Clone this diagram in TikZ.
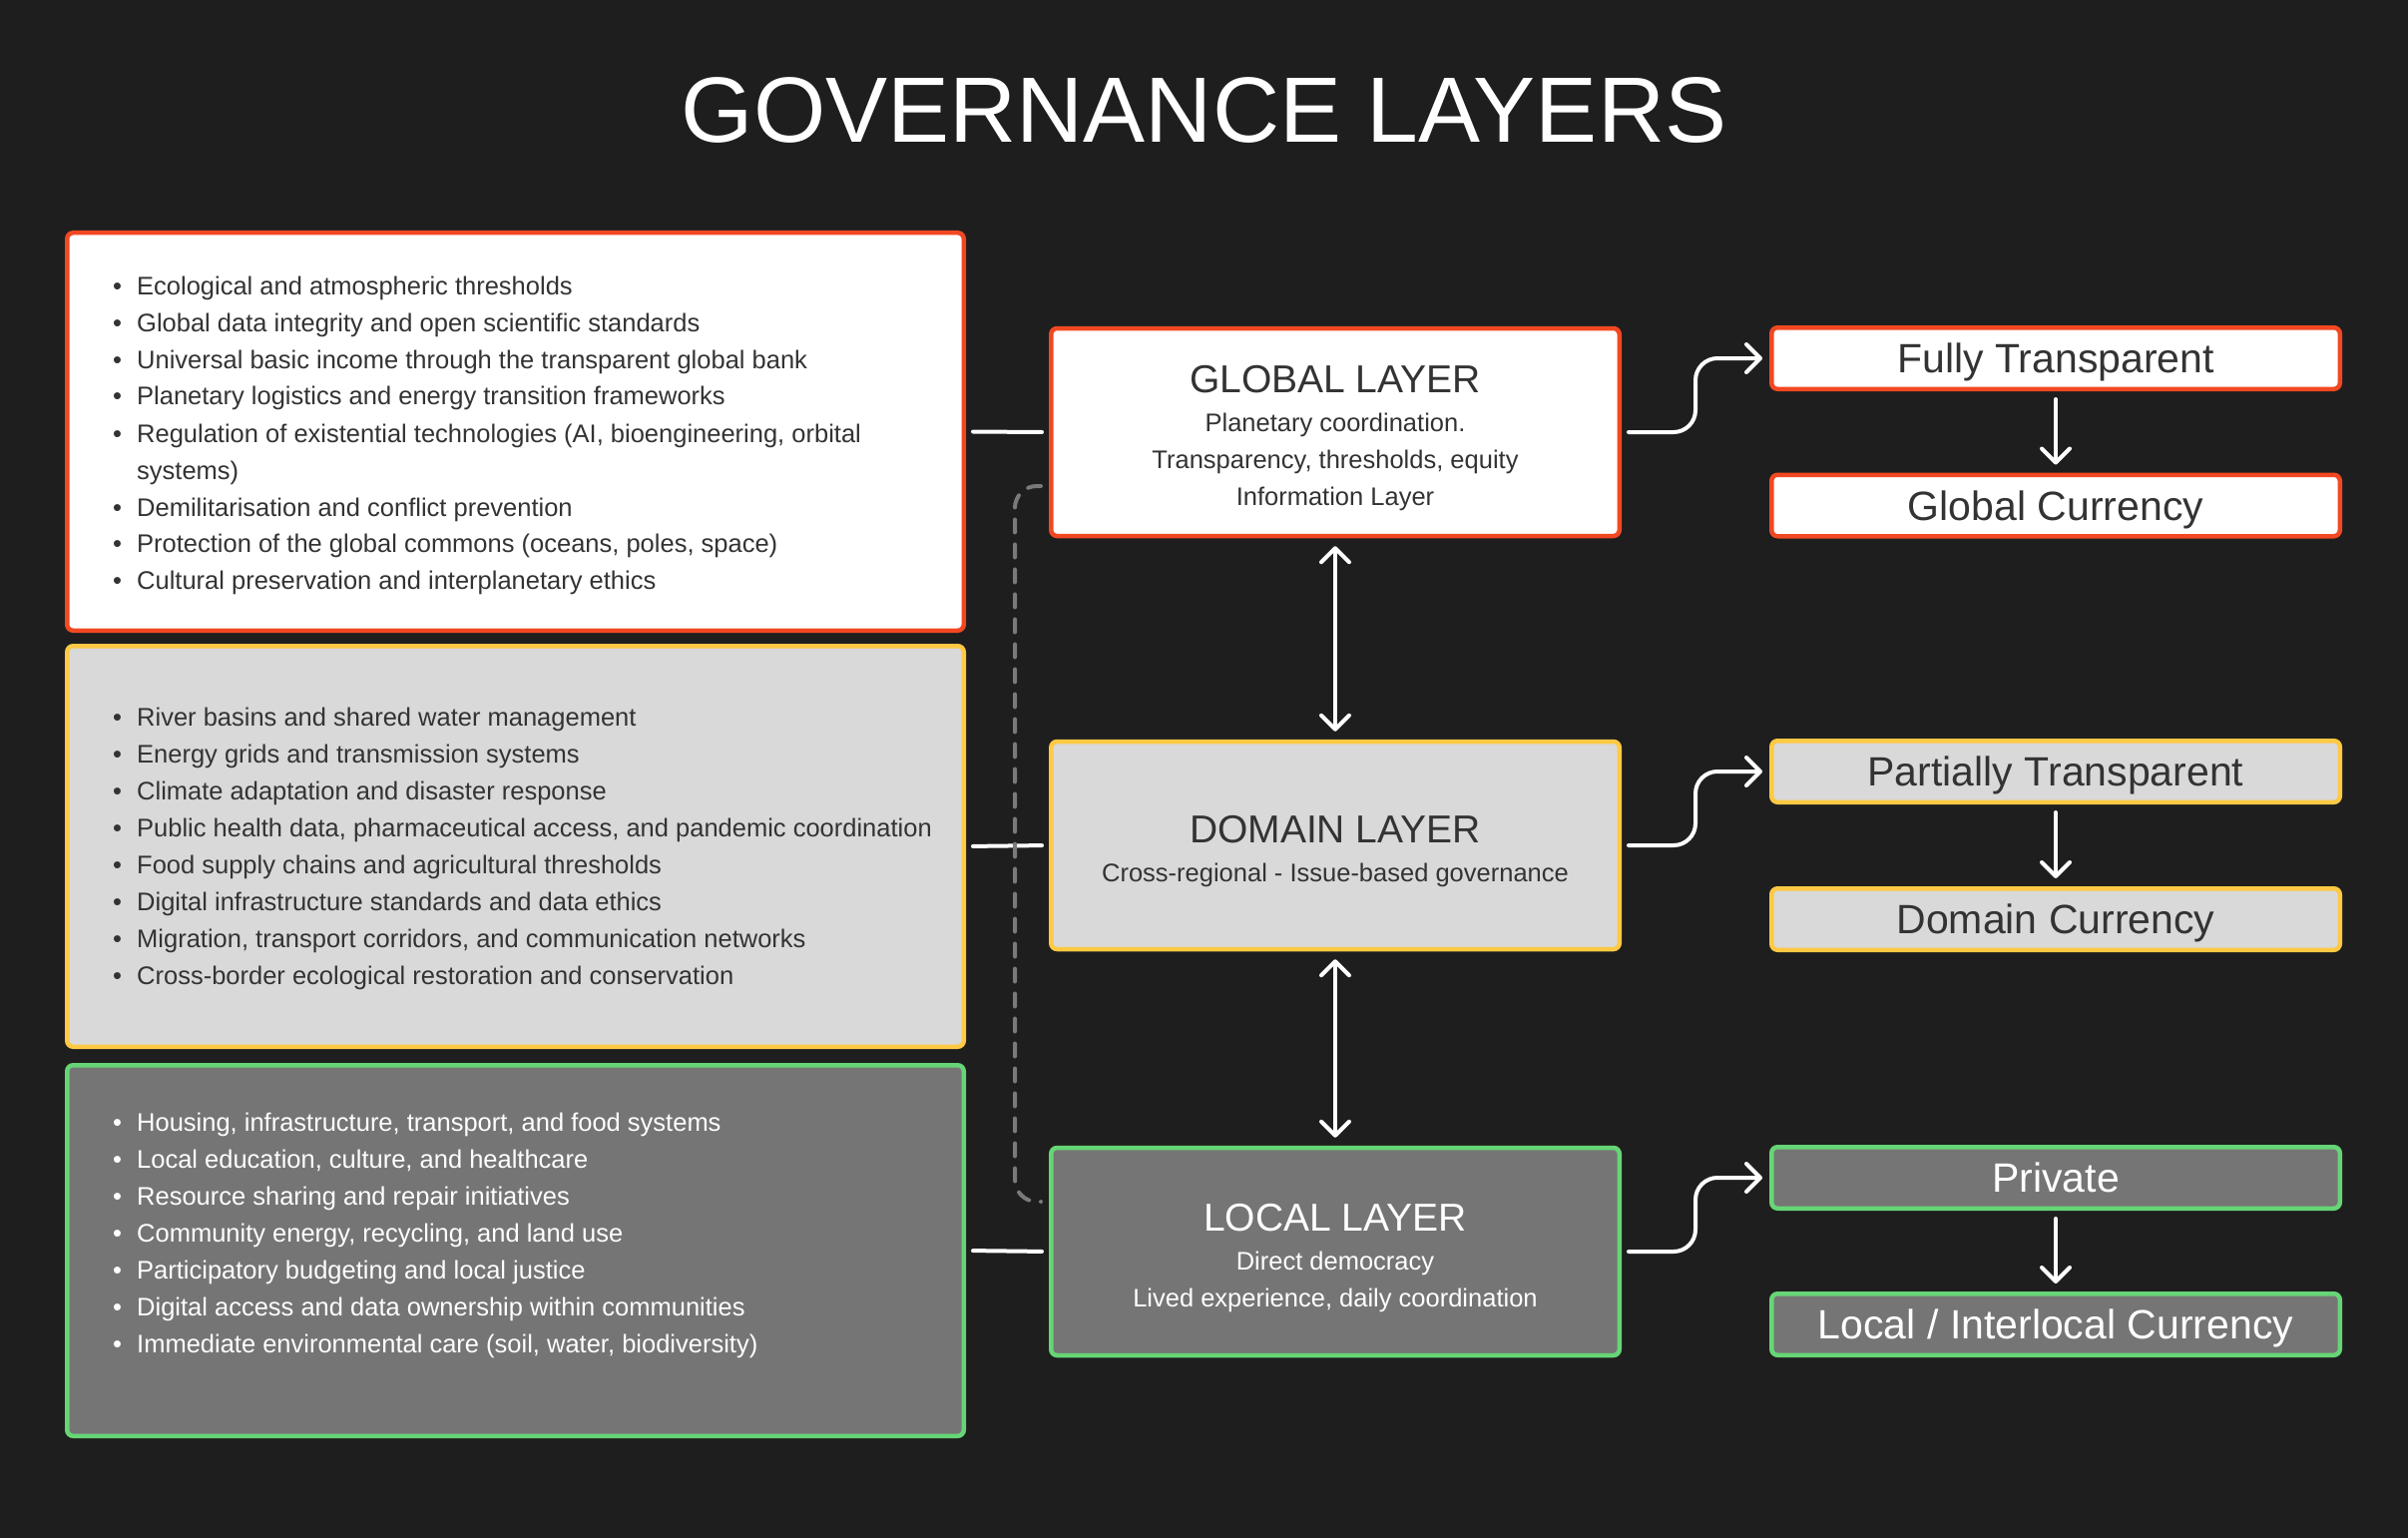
\documentclass[tikz,border=0pt]{standalone}
\usepackage{fontspec}
\setmainfont{Liberation Sans}
\usetikzlibrary{arrows.meta,positioning}
\definecolor{bg}{HTML}{1E1E1E}
\definecolor{globred}{HTML}{F24822}
\definecolor{domyellow}{HTML}{FFC943}
\definecolor{locgreen}{HTML}{66D575}
\definecolor{lightfill}{HTML}{D9D9D9}
\definecolor{darkfill}{HTML}{757575}
\definecolor{inkgray}{HTML}{333333}
\definecolor{dashgray}{HTML}{7A7A7A}
\newcommand{\bodyfont}{\fontsize{25.5}{37}\selectfont}
\newcommand{\layerfont}{\fontsize{39}{46}\selectfont}
\newcommand{\tagfont}{\fontsize{41}{49}\selectfont}
\newcommand{\itembul}{\makebox[24pt][l]{\textbullet}}
\newcommand{\itemcont}{\hspace*{24pt}}
\newcommand{\layertitle}[1]{{\layerfont\rule{0pt}{40pt}#1}}

\begin{document}
\begin{tikzpicture}[
      x=1pt, y=-1pt,
      panel/.style={rectangle, rounded corners=6pt, line width=4.5pt, inner sep=0pt},
      listbox/.style={panel, minimum width=898.5pt},
      listtext/.style={anchor=base west, inner sep=0pt, font=\bodyfont},
      layer/.style={panel, minimum width=569.5pt, minimum height=208pt, align=center, font=\bodyfont},
      tag/.style={panel, minimum width=569.5pt, minimum height=61.5pt, text depth=0pt, font=\tagfont},
      arr/.style={-{Straight Barb[length=14pt,width=28pt,round]}, line width=4pt, white, line cap=round, line join=round},
      dbl/.style={arr, {Straight Barb[length=14pt,width=28pt,round]}-{Straight Barb[length=14pt,width=28pt,round]}},
      link/.style={line width=4pt, white, line cap=round, shorten <=7pt, shorten >=7pt},
      dashlink/.style={line width=4pt, dashgray, line cap=round, dash pattern=on 13pt off 12pt, rounded corners=22pt}
    ]
    \fill[bg] (0,0) rectangle (2413,1541);
    \node[font=\fontsize{93}{110}\selectfont, text=white, anchor=base] (title) at (1206.5,143) {GOVERNANCE LAYERS};

    \node[listbox, draw=globred, fill=white, minimum height=398.5pt] (gbox) at (516.5,432.5) {};
    \node[listbox, draw=domyellow, fill=lightfill, minimum height=401.5pt] (dbox) at (516.5,848) {};
    \node[listbox, draw=locgreen, fill=darkfill, minimum height=371.5pt] (lbox) at (516.5,1253) {};

    \node[listtext, text=inkgray] (gtext) at (113,295) {\begin{tabular}[t]{@{}l@{}}
      \itembul Ecological and atmospheric thresholds\\
      \itembul Global data integrity and open scientific standards\\
      \itembul Universal basic income through the transparent global bank\\
      \itembul Planetary logistics and energy transition frameworks\\
      \itembul Regulation of existential technologies (AI, bioengineering, orbital\\
      \itemcont systems)\\
      \itembul Demilitarisation and conflict prevention\\
      \itembul Protection of the global commons (oceans, poles, space)\\
      \itembul Cultural preservation and interplanetary ethics
    \end{tabular}};
    \node[listtext, text=inkgray] (dtext) at (113,727) {\begin{tabular}[t]{@{}l@{}}
      \itembul River basins and shared water management\\
      \itembul Energy grids and transmission systems\\
      \itembul Climate adaptation and disaster response\\
      \itembul Public health data, pharmaceutical access, and pandemic coordination\\
      \itembul Food supply chains and agricultural thresholds\\
      \itembul Digital infrastructure standards and data ethics\\
      \itembul Migration, transport corridors, and communication networks\\
      \itembul Cross-border ecological restoration and conservation
    \end{tabular}};
    \node[listtext, text=white] (ltext) at (113,1133) {\begin{tabular}[t]{@{}l@{}}
      \itembul Housing, infrastructure, transport, and food systems\\
      \itembul Local education, culture, and healthcare\\
      \itembul Resource sharing and repair initiatives\\
      \itembul Community energy, recycling, and land use\\
      \itembul Participatory budgeting and local justice\\
      \itembul Digital access and data ownership within communities\\
      \itembul Immediate environmental care (soil, water, biodiversity)
    \end{tabular}};

    \node[layer, draw=globred, fill=white, text=inkgray] (gl) at (1338,433)
      {\layertitle{GLOBAL LAYER}\\[2pt]Planetary coordination.\\Transparency, thresholds, equity\\Information Layer};
    \node[layer, draw=domyellow, fill=lightfill, text=inkgray] (dl) at (1338,847)
      {\layertitle{DOMAIN LAYER}\\[2pt]Cross-regional - Issue-based governance};
    \node[layer, draw=locgreen, fill=darkfill, text=white] (ll) at (1338,1254)
      {\layertitle{LOCAL LAYER}\\[2pt]Direct democracy\\Lived experience, daily coordination};

    \node[tag, draw=globred, fill=white, text=inkgray] (ft) at (2060,359) {Fully Transparent};
    \node[tag, draw=globred, fill=white, text=inkgray] (gc) at (2060,506.5) {Global Currency};
    \node[tag, draw=domyellow, fill=lightfill, text=inkgray] (pt) at (2060,773) {Partially Transparent};
    \node[tag, draw=domyellow, fill=lightfill, text=inkgray] (dc) at (2060,921) {Domain Currency};
    \node[tag, draw=locgreen, fill=darkfill, text=white] (pv) at (2060,1180) {Private};
    \node[tag, draw=locgreen, fill=darkfill, text=white] (lc) at (2060,1327) {Local / Interlocal Currency};

    \draw[link] (gbox.east) -- (gl.west);
    \draw[link] (dbox.east) -- (dl.west);
    \draw[link] (lbox.east) -- (ll.west);

    \draw[dbl, shorten <=8pt, shorten >=8pt] (gl) -- (dl);
    \draw[dbl, shorten <=8pt, shorten >=8pt] (dl) -- (ll);

    \draw[arr, rounded corners=22pt, shorten <=7pt, shorten >=7pt] (gl.east) -| ([xshift=-74pt]ft.west) -- (ft.west);
    \draw[arr, rounded corners=22pt, shorten <=7pt, shorten >=7pt] (dl.east) -| ([xshift=-74pt]pt.west) -- (pt.west);
    \draw[arr, rounded corners=22pt, shorten <=7pt, shorten >=7pt] (ll.east) -| ([xshift=-74pt]pv.west) -- (pv.west);

    \draw[arr, shorten <=8pt, shorten >=8pt] (ft) -- (gc);
    \draw[arr, shorten <=8pt, shorten >=8pt] (pt) -- (dc);
    \draw[arr, shorten <=8pt, shorten >=8pt] (pv) -- (lc);

    \draw[dashlink] ([xshift=-8pt,yshift=-54pt]gl.west) -| ([xshift=-34pt]dl.west) |- ([xshift=-8pt,yshift=50pt]ll.west);
  \end{tikzpicture}
\end{document}
